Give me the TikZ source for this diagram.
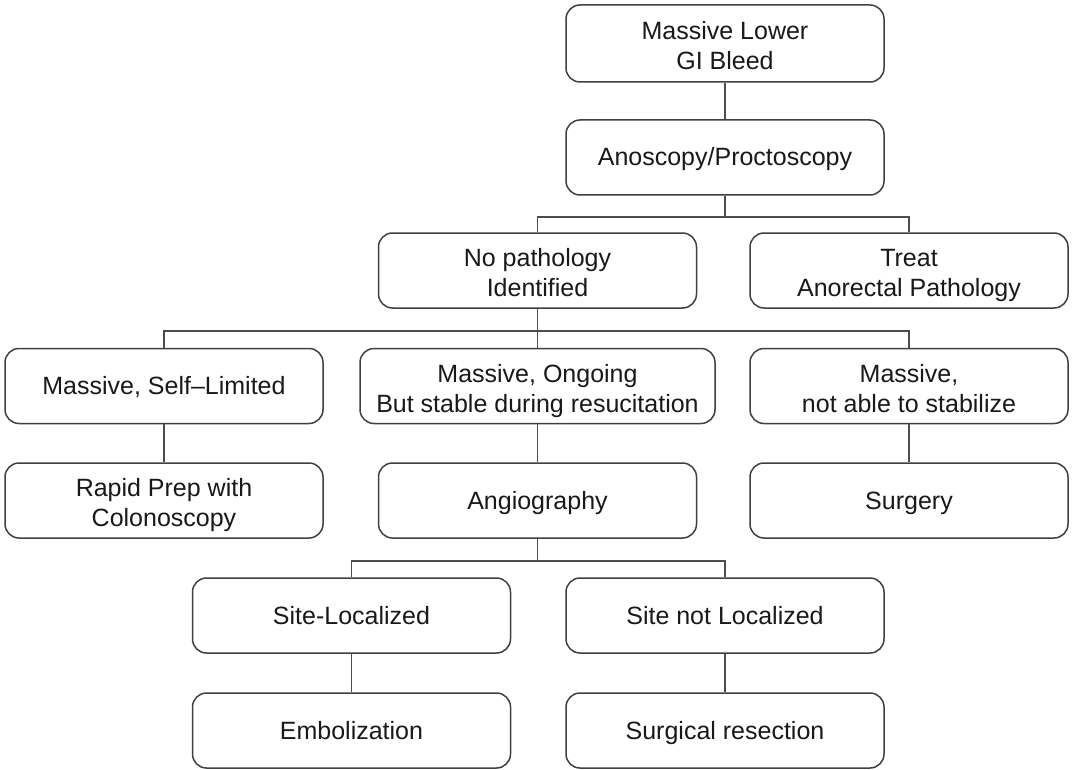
\documentclass[tikz,border=0pt]{standalone}
\usepackage{fontspec}
\setmainfont{Liberation Sans}
\newcommand\onestrut{\rule{0pt}{26pt}\strut}
\newcommand\twostrut{\rule{0pt}{31pt}\strut}
\begin{document}
\begin{tikzpicture}[x=1pt,y=-1pt,
  box/.style={draw=black!75, line width=1.5pt, rounded corners=14pt,
    minimum width=318pt, minimum height=75pt, align=center, inner sep=0pt,
    font=\fontsize{25}{30}\selectfont, text=black!90},
  conn/.style={draw=black!70, line width=1.5pt}]
\fill[white] (0,0) rectangle (1073,770);
\useasboundingbox (0,0) rectangle (1073,770);
\node[box, minimum height=77pt] (b1) at (725,43.5) {\twostrut Massive Lower\\GI Bleed\strut};
\node[box] (b2) at (725,157.5) {\onestrut Anoscopy/Proctoscopy};
\node[box] (b3) at (537.5,270.5) {\twostrut No pathology\\Identified\strut};
\node[box] (b4) at (909,270.5) {\twostrut Treat\\Anorectal Pathology\strut};
\node[box] (r4a) at (164,386) {\onestrut Massive, Self--Limited};
\node[box, minimum width=355pt] (r4b) at (537.5,386) {\twostrut Massive, Ongoing\\But stable during resucitation\strut};
\node[box] (r4c) at (909,386) {\twostrut Massive,\\not able to stabilize\strut};
\node[box] (r5a) at (164,500.5) {\twostrut Rapid Prep with\\Colonoscopy\strut};
\node[box] (r5b) at (537.5,500.5) {\onestrut Angiography};
\node[box] (r5c) at (909,500.5) {\onestrut Surgery};
\node[box] (r6a) at (351.5,615.5) {\onestrut Site-Localized};
\node[box] (r6b) at (725,615.5) {\onestrut Site not Localized};
\node[box] (r7a) at (351.5,730.5) {\onestrut Embolization};
\node[box] (r7b) at (725,730.5) {\onestrut Surgical resection};
% connectors
\draw[conn] (b1) -- (b2);
\draw[conn] (b2.south) -- ++(0,21) coordinate (j1);
\draw[conn] (j1) -| (b3.north);
\draw[conn] (j1) -| (b4.north);
\draw[conn] (b3.south) -- ++(0,22) coordinate (j2);
\draw[conn] (j2) -| (r4a.north);
\draw[conn] (j2) -- (r4b.north);
\draw[conn] (j2) -| (r4c.north);
\draw[conn] (r4a) -- (r5a);
\draw[conn] (r4b) -- (r5b);
\draw[conn] (r4c) -- (r5c);
\draw[conn] (r5b.south) -- ++(0,22) coordinate (j3);
\draw[conn] (j3) -| (r6a.north);
\draw[conn] (j3) -| (r6b.north);
\draw[conn] (r6a) -- (r7a);
\draw[conn] (r6b) -- (r7b);
\end{tikzpicture}
\end{document}
